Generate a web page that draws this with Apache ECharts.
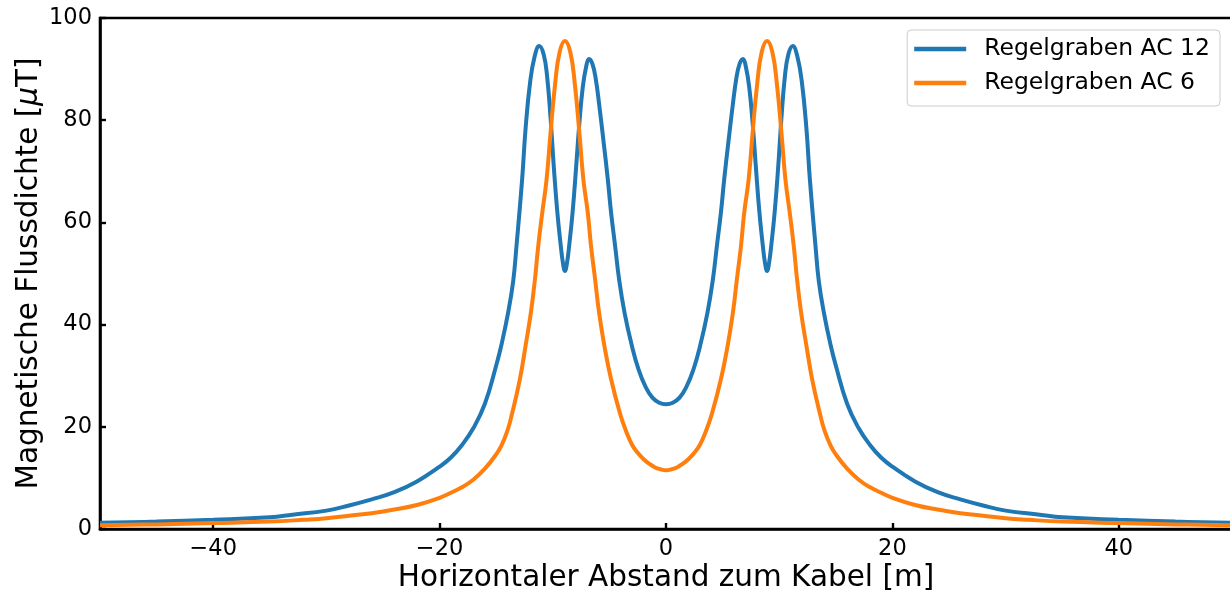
<!DOCTYPE html>
<html>
<head>
<meta charset="utf-8">
<script src="https://cdn.jsdelivr.net/npm/echarts@6/dist/echarts.min.js"></script>
<style>
html,body{margin:0;padding:0;background:#fff;overflow:hidden;}
#chart{width:1230px;height:592px;}
</style>
</head>
<body>
<div id="chart"></div>
<script>
// ---- data ----
var seriesNames = ['Regelgraben AC 12', 'Regelgraben AC 6'];

var ac12X = [-50,-45,-40,-35,-33,-30,-28,-26,-24,-22,
  -20,-19,-18,-17,-16,-15,-14.54,-13.95,-13.5,-13.21,
  -12.71,-12.4,-12,-11.6,-11.2,-10.8,-10.5,-10.2,-9.9,-9.6,
  -9.3,-9.1,-8.93,-8.75,-8.55,-8.25,-7.95,-7.65,-7.35,-7.05,
  -6.8,-6.5,-6.2,-5.9,-5.5,-5.14,-4.85,-4.49,-4.14,-3.66,
  -3.01,-2.42,-1.8,-1.2,-0.6,0,
  0.6,1.2,1.8,2.42,3.01,3.66,4.14,4.49,4.85,5.14,
  5.5,5.9,6.2,6.5,6.8,7.05,7.35,7.65,7.95,8.25,
  8.55,8.75,8.93,9.1,9.3,9.6,9.9,10.2,10.5,10.8,
  11.2,11.6,12,12.4,12.71,13.21,13.5,13.95,14.54,15,
  16,17,18,19,20,22,24,26,28,30,
  33,35,40,45,50];
var ac12Y = [1.2,1.45,1.8,2.3,2.8,3.6,4.6,5.8,7.2,9.3,
  12.2,14,16.5,19.8,24.5,32,36,42.3,48.5,55.3,
  68.4,78.5,87.5,92.5,94.5,92.8,88.5,80.5,70.5,62,
  55.5,52,50.5,52,55.5,62,70.5,79.5,86.5,90.5,
  92,91,88,83,75.5,68.4,61.9,55.3,48.8,42.3,
  35.8,31.2,27.8,25.7,24.7,24.4,
  24.7,25.7,27.8,31.2,35.8,42.3,48.8,55.3,61.9,68.4,
  75.5,83,88,91,92,90.5,86.5,79.5,70.5,62,
  55.5,52,50.5,52,55.5,62,70.5,80.5,88.5,92.8,
  94.5,92.5,87.5,78.5,68.4,55.3,48.5,42.3,36,32,
  24.5,19.8,16.5,14,12.2,9.3,7.2,5.8,4.6,3.6,
  2.8,2.3,1.8,1.45,1.2];

var ac6X = [-50,-45,-40,-35,-32,-30,-28,-26,-24,-22,
  -20,-19,-18,-17,-16,-15,-14.54,-14,-13.65,-12.91,
  -12.41,-11.94,-11.58,-11.29,-10.93,-10.55,-10.2,-9.8,-9.4,-8.93,
  -8.45,-8.05,-7.65,-7.3,-6.91,-6.62,-6.26,-5.91,-5.44,-4.85,
  -4.05,-3.5,-3,-2.5,-2,-1.5,-1,-0.5,0,
  0.5,1,1.5,2,2.5,3,3.5,4.05,4.85,5.44,5.91,6.26,6.62,6.91,
  7.3,7.65,8.05,8.45,8.93,9.4,9.8,10.2,10.55,10.93,
  11.29,11.58,11.94,12.41,12.91,13.65,14,14.54,15,16,
  17,18,19,20,22,24,26,28,30,32,
  35,40,45,50];
var ac6Y = [0.75,0.9,1.15,1.45,1.8,2.1,2.6,3.1,3.8,4.7,
  6.1,7.1,8.2,9.7,11.8,14.6,16.3,19.3,22.1,29.3,
  35.8,42.3,48.8,55.3,61.9,68.4,77.5,87,93.3,95.5,
  93.3,87,77.5,68.4,61.9,55.3,48.8,42.3,35.8,29.3,
  22.5,19,16.5,14.9,13.7,12.8,12.1,11.7,11.5,
  11.7,12.1,12.8,13.7,14.9,16.5,19,22.5,29.3,35.8,42.3,48.8,55.3,61.9,
  68.4,77.5,87,93.3,95.5,93.3,87,77.5,68.4,61.9,
  55.3,48.8,42.3,35.8,29.3,22.1,19.3,16.3,14.6,11.8,
  9.7,8.2,7.1,6.1,4.7,3.8,3.1,2.6,2.1,1.8,
  1.45,1.15,0.9,0.75];

var xTicks = [-40, -20, 0, 20, 40];
var yTicks = [0, 20, 40, 60, 80, 100];

// ---- chart ----
function pairs(xs, ys) {
  var out = [];
  for (var i = 0; i < xs.length; i++) out.push([xs[i], ys[i]]);
  return out;
}
var FONT = 'DejaVu Sans';
var chart = echarts.init(document.getElementById('chart'), null, {renderer: 'canvas'});
chart.setOption({
  animation: false,
  backgroundColor: '#ffffff',
  textStyle: {fontFamily: FONT, color: '#000'},
  grid: {
    left: 100, right: -2, top: 18, bottom: 63,
    outerBoundsMode: 'none', containLabel: false,
    show: true, borderColor: '#000', borderWidth: 2.6, backgroundColor: 'transparent'
  },
  legend: {
    orient: 'vertical',
    right: 10, top: 30,
    padding: [6, 10, 10, 7],
    itemGap: 8,
    itemWidth: 52, itemHeight: 4.5,
    icon: 'rect',
    backgroundColor: 'rgba(255,255,255,0.8)',
    borderColor: '#cccccc', borderWidth: 1, borderRadius: 4,
    textStyle: {fontFamily: FONT, fontSize: 23.5, color: '#000', lineHeight: 26, padding: [0, 0, 0, 13]},
    data: seriesNames
  },
  xAxis: {
    type: 'value', min: -50, max: 50,
    name: 'Horizontaler Abstand zum Kabel [m]',
    nameLocation: 'middle', nameGap: 34, nameMoveOverlap: false,
    nameTextStyle: {fontFamily: FONT, fontSize: 29.5, color: '#000'},
    axisLine: {show: true, onZero: false, lineStyle: {color: '#000', width: 2.6}},
    axisTick: {show: true, inside: true, length: 6, customValues: xTicks, lineStyle: {color: '#000', width: 2.4}},
    axisLabel: {
      show: true, margin: 9, fontFamily: FONT, fontSize: 22.5, color: '#000',
      customValues: xTicks,
      formatter: function (v) { return String(v).replace('-', '\u2212'); }
    },
    splitLine: {show: false}
  },
  yAxis: {
    type: 'value', min: 0, max: 100,
    name: 'Magnetische Flussdichte [{it|\u03bc}T]',
    nameLocation: 'middle', nameGap: 56, nameRotate: 90, nameMoveOverlap: false,
    nameTextStyle: {fontFamily: FONT, fontSize: 29.5, color: '#000',
      rich: {it: {fontFamily: FONT, fontSize: 29.5, fontStyle: 'italic', color: '#000'}}},
    axisLine: {show: true, onZero: false, lineStyle: {color: '#000', width: 2.6}},
    axisTick: {show: true, inside: true, length: 6, customValues: yTicks, lineStyle: {color: '#000', width: 2.4}},
    axisLabel: {show: true, margin: 8, fontFamily: FONT, fontSize: 22.5, color: '#000', customValues: yTicks},
    splitLine: {show: false}
  },
  series: [
    {
      name: seriesNames[0], type: 'line', data: pairs(ac12X, ac12Y),
      showSymbol: false, smooth: 0.45,
      color: '#1f77b4', lineStyle: {width: 4, color: '#1f77b4'}, z: 2
    },
    {
      name: seriesNames[1], type: 'line', data: pairs(ac6X, ac6Y),
      showSymbol: false, smooth: 0.45,
      color: '#ff7f0e', lineStyle: {width: 4, color: '#ff7f0e'}, z: 3
    }
  ]
});
</script>
</body>
</html>
